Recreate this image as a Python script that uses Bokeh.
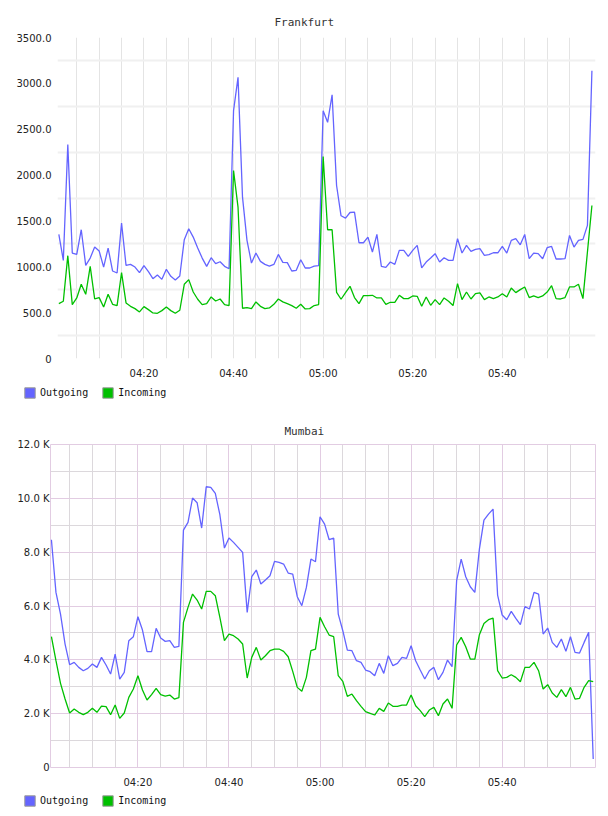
from bokeh.plotting import figure
from bokeh.models import FixedTicker, Legend, LegendItem, Range1d
from bokeh.embed import file_html
from bokeh.resources import INLINE

# one sample per minute, 04:01 .. 06:00 (minutes after 04:00)
minutes = list(range(1, 121))

x_tick_minutes = [20, 40, 60, 80, 100]
x_tick_labels = ["04:20", "04:40", "05:00", "05:20", "05:40"]

# Frankfurt traffic
fra_outgoing = [1353, 1070, 2332, 1150, 1135, 1404, 1016, 1095, 1215, 1172,
                997, 1204, 954, 932, 1476, 1016, 1026, 997, 936, 1012,
                947, 870, 910, 863, 972, 896, 856, 900, 1295, 1415,
                1324, 1204, 1095, 1005, 1099, 1034, 1055, 1005, 979, 2702,
                3065, 1759, 1288, 1041, 1150, 1059, 1026, 1008, 1026, 1135,
                1048, 1045, 954, 961, 1077, 987, 987, 1008, 1012, 2702,
                2575, 2876, 1886, 1556, 1531, 1592, 1596, 1262, 1262, 1324,
                1161, 1353, 1005, 994, 1052, 1026, 1179, 1179, 1114, 1179,
                1233, 987, 1052, 1095, 1143, 1052, 1099, 1070, 1070, 1306,
                1150, 1233, 1168, 1190, 1197, 1124, 1132, 1153, 1153, 1222,
                1150, 1288, 1306, 1240, 1353, 1088, 1150, 1143, 1088, 1208,
                1222, 1085, 1085, 1088, 1342, 1215, 1288, 1299, 1451, 3137]
fra_incoming = [598, 624, 1121, 588, 660, 809, 700, 1005, 649, 664,
                562, 700, 591, 577, 936, 606, 569, 544, 508, 566,
                533, 497, 493, 522, 562, 522, 493, 526, 809, 860,
                725, 646, 588, 598, 671, 627, 649, 588, 577, 2049,
                1650, 548, 555, 544, 617, 569, 544, 551, 591, 649,
                617, 598, 577, 548, 591, 540, 544, 577, 588, 2202,
                1404, 1404, 722, 646, 718, 787, 664, 598, 686, 686,
                689, 660, 660, 591, 613, 613, 689, 653, 653, 682,
                678, 569, 671, 580, 642, 588, 660, 624, 577, 816,
                642, 725, 649, 707, 715, 642, 671, 653, 671, 707,
                671, 769, 718, 751, 780, 664, 682, 664, 682, 725,
                794, 653, 649, 664, 780, 780, 809, 653, 1161, 1668]
fra_y_ticks = [0, 500, 1000, 1500, 2000, 2500, 3000, 3500]
fra_y_labels = ["0", "500.0", "1000.0", "1500.0", "2000.0", "2500.0", "3000.0", "3500.0"]
fra_y_grid = [250, 750, 1250, 1750, 2250, 2750, 3250]

# Mumbai traffic
mum_outgoing = [8463, 6506, 5701, 4587, 3819, 3906, 3720, 3596, 3683, 3844,
                3720, 4092, 3807, 3472, 4215, 3286, 3534, 4710, 4859, 5602,
                5107, 4302, 4302, 5169, 4809, 4686, 4710, 4463, 4500, 8821,
                9106, 10010, 9837, 8896, 10431, 10406, 10183, 9391, 8153, 8524,
                8364, 8178, 7992, 5763, 7088, 7335, 6815, 6964, 7125, 7658,
                7621, 7559, 7224, 7187, 6345, 6011, 6691, 7744, 7645, 9316,
                9044, 8463, 8524, 5701, 5082, 4364, 4339, 3968, 3906, 3621,
                3559, 3410, 3869, 3497, 4153, 3782, 3869, 4092, 4054, 4525,
                3968, 3621, 3286, 3596, 3720, 3262, 3534, 3993, 3745, 6939,
                7744, 7088, 6716, 6506, 8116, 9193, 9415, 9601, 6407, 5664,
                5491, 5800, 5540, 5305, 5974, 5887, 6506, 6444, 4958, 5181,
                4648, 4463, 4772, 4314, 4859, 4277, 4252, 4648, 5020, 316]
mum_incoming = [4859, 3968, 3126, 2544, 2024, 2173, 2049, 1962, 2049, 2198,
                2049, 2284, 2259, 1962, 2321, 1826, 2024, 2606, 2915, 3410,
                2878, 2507, 2705, 2940, 2705, 2655, 2693, 2544, 2593, 5391,
                5949, 6444, 6221, 5887, 6543, 6543, 6382, 5577, 4710, 4958,
                4896, 4772, 4587, 3324, 4092, 4463, 3993, 4153, 4339, 4401,
                4401, 4314, 4116, 3571, 2977, 2829, 3349, 4339, 4401, 5577,
                5231, 4921, 4859, 3410, 3200, 2643, 2729, 2482, 2272, 2074,
                2012, 1950, 2198, 2086, 2395, 2272, 2272, 2321, 2321, 2693,
                2296, 2111, 1888, 2135, 2234, 1925, 2358, 2544, 2198, 4550,
                4835, 4488, 4030, 4030, 4933, 5354, 5491, 5552, 3596, 3324,
                3349, 3448, 3349, 3188, 3720, 3720, 3906, 3596, 2915, 3077,
                2766, 2606, 2891, 2630, 2977, 2544, 2569, 2977, 3225, 3188]
mum_y_ticks = [0, 2000, 4000, 6000, 8000, 10000, 12000]
mum_y_labels = ["0", "2.0 K", "4.0 K", "6.0 K", "8.0 K", "10.0 K", "12.0 K"]
mum_y_minor = [1000, 3000, 5000, 7000, 9000, 11000]

series_names = ["Outgoing", "Incoming"]
series_colors = ["#6464ff", "#00c000"]
AXIS_FONT = "DejaVu Sans"
MONO_FONT = "DejaVu Sans Mono"

five_min = list(range(5, 120, 5))


def base_figure(title, x_rng, y_max, left, top, bottom, title_offset, title_standoff):
    p = figure(width=608, height=382, x_range=Range1d(*x_rng), y_range=Range1d(0, y_max),
               output_backend="svg", toolbar_location=None,
               min_border_left=left, min_border_right=13,
               min_border_top=top, min_border_bottom=bottom)
    p.title.text = title
    p.title.align = "left"
    p.title.offset = title_offset
    p.title.standoff = title_standoff
    p.title.text_font = MONO_FONT
    p.title.text_font_size = "11px"
    p.title.text_font_style = "normal"
    p.title.text_color = "#333333"
    p.background_fill_color = "white"
    p.border_fill_color = "white"
    for ax in (p.xaxis[0], p.yaxis[0]):
        ax.axis_line_color = None
        ax.major_tick_line_color = None
        ax.minor_tick_line_color = None
        ax.major_tick_out = 0
        ax.major_tick_in = 0
        ax.major_label_text_font = AXIS_FONT
        ax.major_label_text_font_size = "10px"
        ax.major_label_text_color = "#222222"
    p.xaxis.ticker = FixedTicker(ticks=x_tick_minutes)
    p.xaxis.major_label_overrides = dict(zip(x_tick_minutes, x_tick_labels))
    p.xaxis.major_label_standoff = 9
    return p


def legend_strip():
    # a thin strip under each chart holding the series key
    lg = figure(width=608, height=26, x_range=Range1d(0, 608), y_range=Range1d(0, 26),
                output_backend="svg", toolbar_location=None, min_border=0)
    lg.axis.visible = False
    lg.grid.visible = False
    lg.outline_line_color = None
    lg.background_fill_color = "white"
    lg.border_fill_color = "white"
    items = []
    for name, color in zip(series_names, series_colors):
        # swatch glyph kept outside the visible range; only its legend entry shows
        sw = lg.quad(left=[-50], right=[-40], top=[-40], bottom=[-50],
                     fill_color=color, line_color="#999999")
        items.append(LegendItem(label=name, renderers=[sw]))
    legend = Legend(items=items,
                    location=(23, 9.5), orientation="horizontal",
                    glyph_width=13, glyph_height=13, label_height=13,
                    label_standoff=4, spacing=13, padding=0, margin=0,
                    border_line_color=None, background_fill_alpha=0,
                    label_text_font=MONO_FONT, label_text_font_size="10px",
                    label_text_color="#111111")
    lg.add_layout(legend)
    return lg


# --- Frankfurt ---
p1 = base_figure("Frankfurt", (0.7, 120.8), 3500, 57, 37, 24, 217, 17)
p1.outline_line_color = None
p1.yaxis.ticker = FixedTicker(ticks=fra_y_ticks)
p1.yaxis.major_label_overrides = dict(zip(fra_y_ticks, fra_y_labels))
p1.yaxis.major_label_standoff = 6
p1.xgrid.ticker = FixedTicker(ticks=five_min)
p1.xgrid.grid_line_color = "#e4e4e4"
p1.ygrid.ticker = FixedTicker(ticks=fra_y_grid)
p1.ygrid.grid_line_color = "#f0f0f0"
p1.ygrid.grid_line_width = 2
p1.line(minutes, fra_outgoing, line_color=series_colors[0], line_width=1.3)
p1.line(minutes, fra_incoming, line_color=series_colors[1], line_width=1.3)

# --- Mumbai ---
PURPLE = "#e2cce2"
GREY = "#dcd8dc"
p2 = base_figure("Mumbai", (0.8, 120.5), 12000, 50, 36, 23, 234, 14)
p2.outline_line_color = PURPLE
p2.yaxis.ticker = FixedTicker(ticks=mum_y_ticks)
p2.yaxis.major_label_overrides = dict(zip(mum_y_ticks, mum_y_labels))
p2.yaxis.major_label_standoff = 1
p2.xgrid.ticker = FixedTicker(ticks=x_tick_minutes,
                              minor_ticks=[m for m in five_min if m % 20])
p2.xgrid.grid_line_color = PURPLE
p2.xgrid.minor_grid_line_color = GREY
p2.ygrid.ticker = FixedTicker(ticks=mum_y_ticks, minor_ticks=mum_y_minor)
p2.ygrid.grid_line_color = PURPLE
p2.ygrid.minor_grid_line_color = GREY
p2.line(minutes, mum_outgoing, line_color=series_colors[0], line_width=1.3)
p2.line(minutes, mum_incoming, line_color=series_colors[1], line_width=1.3)

open("out.html", "w").write(file_html([p1, legend_strip(), p2, legend_strip()], INLINE))
